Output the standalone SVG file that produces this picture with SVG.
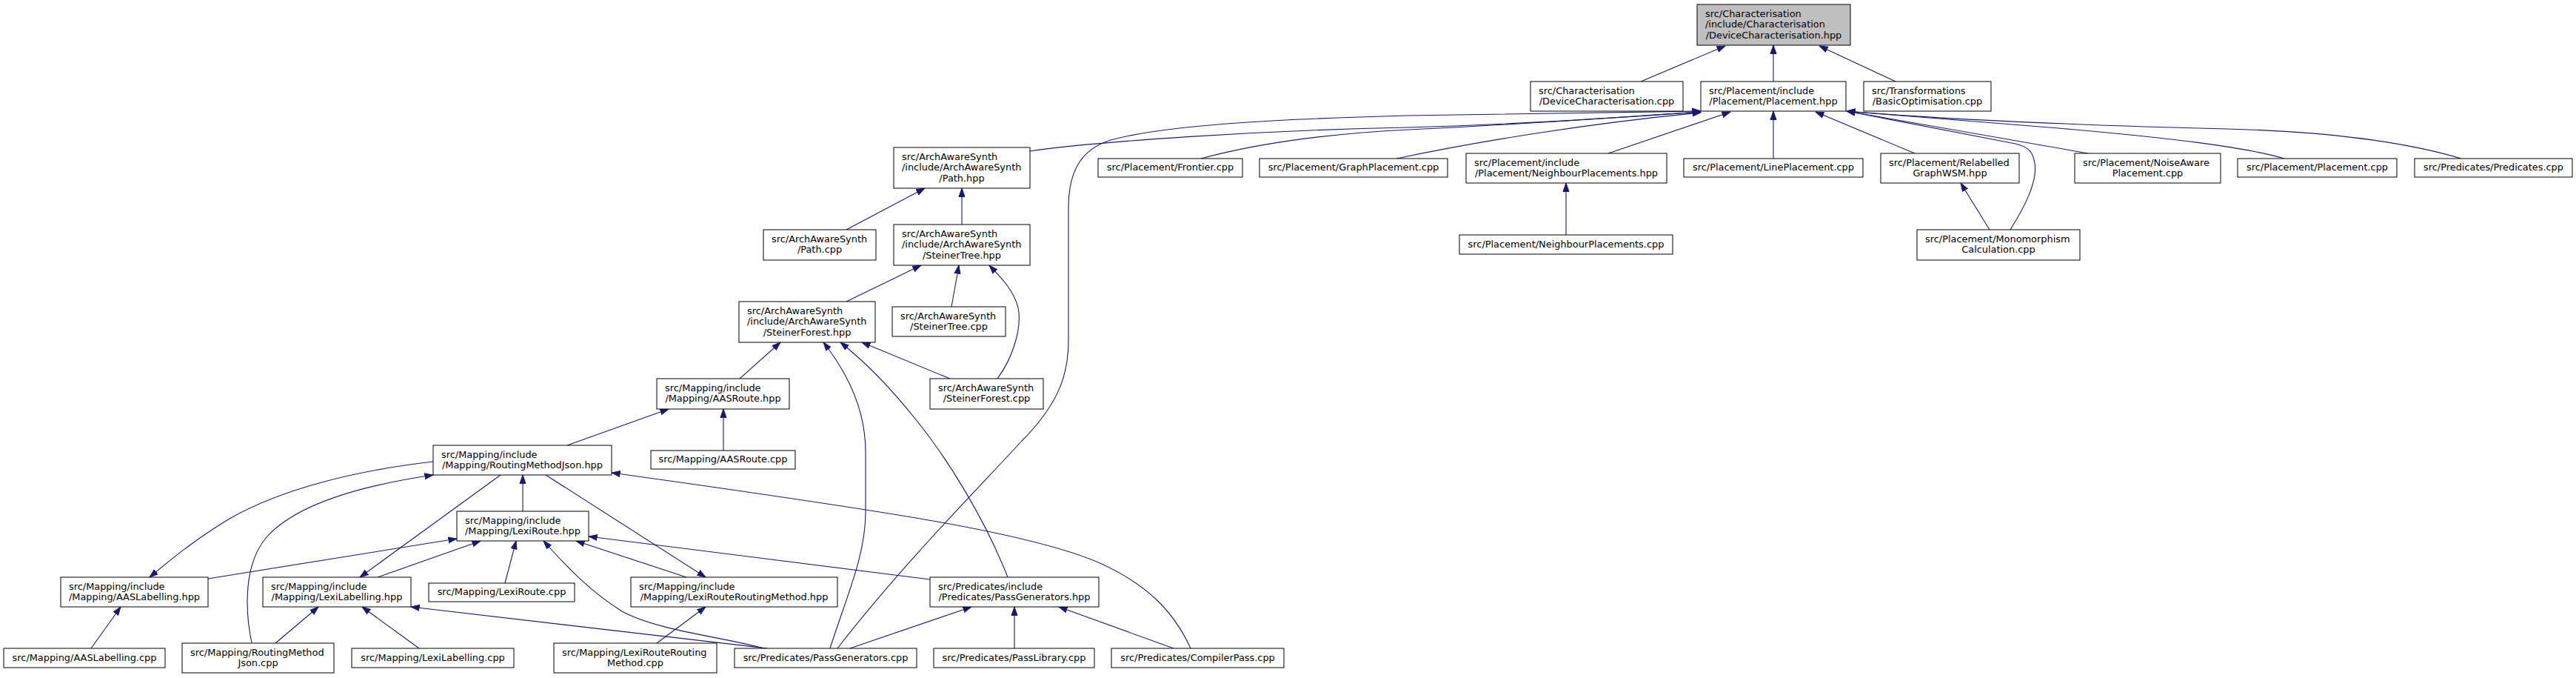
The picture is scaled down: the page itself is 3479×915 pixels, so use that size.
<svg xmlns="http://www.w3.org/2000/svg" width="3479" height="915" viewBox="0 0 3479 915">
<style>
.node rect{fill:#ffffff;stroke:#000000;stroke-width:1}
.node.root rect{fill:#bfbfbf}
.node text{font-family:"DejaVu Sans",sans-serif;font-size:12.9px;fill:#000000}
.l{text-anchor:start}
.c{text-anchor:middle}
.edges path{fill:none;stroke:#191970;stroke-width:1.1;marker-end:url(#ah)}
</style>
<defs>
<marker id="ah" markerUnits="userSpaceOnUse" viewBox="0 0 12 10" markerWidth="12" markerHeight="10" refX="11.5" refY="5" orient="auto">
<path d="M0,1 L11.5,5 L0,9 Z" fill="#191970" stroke="#191970" stroke-width="1"/>
</marker>
</defs>
<rect x="0" y="0" width="3479" height="915" fill="#ffffff"/>
<g class="edges">
<path d="M2216,110 L2330,62"/>
<path d="M2395,110 L2395,61"/>
<path d="M2560,110 L2457,62"/>
<path d="M1391,204 C1480,191 1700,176 1900,172 C2050,168 2200,158 2297,151"/>
<path d="M1131,875 C1220,760 1330,650 1380,595 C1430,545 1443,505 1443,460 L1443,280 C1443,225 1465,200 1500,189 C1580,167 1750,160 1900,156 C2050,153 2200,151 2297,150"/>
<path d="M1622,214 C1700,193 1800,180 1903,175 C2060,168 2200,157 2297,151"/>
<path d="M1886,214 C2000,190 2150,166 2297,152"/>
<path d="M2172,207 L2337,151"/>
<path d="M2395,214 L2395,150"/>
<path d="M2586,207 L2452,151"/>
<path d="M2715,310 C2735,278 2752,245 2748,220 C2745,203 2738,198 2722,194 L2494,150"/>
<path d="M2820,207 L2494,150"/>
<path d="M3085,214 C3030,198 2930,186 2780,173 L2494,150"/>
<path d="M3324,214 C3260,195 3160,178 3008,174 C2850,170 2650,163 2494,150"/>
<path d="M2115,317 L2115,247"/>
<path d="M2687,310 L2648,247"/>
<path d="M1143,310 L1249,254"/>
<path d="M1299,303 L1299,254"/>
<path d="M1143,407 L1244,358"/>
<path d="M1285,414 L1295,358"/>
<path d="M1347,511 C1370,480 1380,440 1375,415 C1368,390 1352,375 1336,358"/>
<path d="M999,511 L1054,462"/>
<path d="M1121,875 C1145,800 1169,750 1169,690 L1169,610 C1169,550 1142,500 1112,462"/>
<path d="M1361,779 C1330,700 1280,620 1240,570 C1200,520 1170,490 1135,462"/>
<path d="M1283,511 L1164,462"/>
<path d="M766,601 L903,552"/>
<path d="M977,608 L977,552"/>
<path d="M585,623 C480,635 380,660 310,700 C260,730 225,760 202,779"/>
<path d="M340,868 C330,820 330,760 360,725 C400,680 490,655 585,641"/>
<path d="M676,641 L486,779"/>
<path d="M706,690 L706,641"/>
<path d="M737,641 L953,779"/>
<path d="M1608,875 C1585,825 1550,790 1490,762 C1400,720 1200,690 826,638"/>
<path d="M281,781 L617,727"/>
<path d="M510,779 L649,730"/>
<path d="M682,787 L697,730"/>
<path d="M1031,875 C980,860 890,852 840,825 C800,800 770,770 734,730"/>
<path d="M927,779 L778,730"/>
<path d="M1256,782 L795,724"/>
<path d="M123,875 L163,819"/>
<path d="M372,868 L430,819"/>
<path d="M566,875 L489,819"/>
<path d="M1036,875 L555,819"/>
<path d="M887,868 L953,819"/>
<path d="M1148,875 L1312,819"/>
<path d="M1370,875 L1370,819"/>
<path d="M1585,875 L1430,819"/>
</g>
<g id="n0" class="node root"><rect x="2292" y="6" width="207" height="55"/><text class="l" x="2303" y="22.9">src/Characterisation</text><text class="l" x="2303" y="37.2">/include/Characterisation</text><text class="c" x="2395.5" y="51.5">/DeviceCharacterisation.hpp</text></g>
<g id="n1" class="node"><rect x="2067" y="110" width="206" height="40"/><text class="l" x="2078" y="126.55">src/Characterisation</text><text class="c" x="2170" y="140.85">/DeviceCharacterisation.cpp</text></g>
<g id="n2" class="node"><rect x="2297" y="110" width="196" height="40"/><text class="l" x="2308" y="126.55">src/Placement/include</text><text class="c" x="2395" y="140.85">/Placement/Placement.hpp</text></g>
<g id="n3" class="node"><rect x="2517" y="110" width="172" height="40"/><text class="l" x="2528" y="126.55">src/Transformations</text><text class="c" x="2603" y="140.85">/BasicOptimisation.cpp</text></g>
<g id="n4" class="node"><rect x="1207" y="199" width="184" height="55"/><text class="l" x="1218" y="215.9">src/ArchAwareSynth</text><text class="l" x="1218" y="230.2">/include/ArchAwareSynth</text><text class="c" x="1299" y="244.5">/Path.hpp</text></g>
<g id="n5" class="node"><rect x="1483" y="214" width="195" height="25"/><text class="c" x="1580.5" y="230.2">src/Placement/Frontier.cpp</text></g>
<g id="n6" class="node"><rect x="1701" y="214" width="254" height="25"/><text class="c" x="1828" y="230.2">src/Placement/GraphPlacement.cpp</text></g>
<g id="n7" class="node"><rect x="1980" y="207" width="271" height="40"/><text class="l" x="1991" y="223.55">src/Placement/include</text><text class="c" x="2115.5" y="237.85">/Placement/NeighbourPlacements.hpp</text></g>
<g id="n8" class="node"><rect x="2274" y="214" width="242" height="25"/><text class="c" x="2395" y="230.2">src/Placement/LinePlacement.cpp</text></g>
<g id="n9" class="node"><rect x="2540" y="207" width="187" height="40"/><text class="l" x="2551" y="223.55">src/Placement/Relabelled</text><text class="c" x="2633.5" y="237.85">GraphWSM.hpp</text></g>
<g id="n10" class="node"><rect x="2802" y="207" width="197" height="40"/><text class="l" x="2813" y="223.55">src/Placement/NoiseAware</text><text class="c" x="2900.5" y="237.85">Placement.cpp</text></g>
<g id="n11" class="node"><rect x="3022" y="214" width="215" height="25"/><text class="c" x="3129.5" y="230.2">src/Placement/Placement.cpp</text></g>
<g id="n12" class="node"><rect x="3261" y="214" width="213" height="25"/><text class="c" x="3367.5" y="230.2">src/Predicates/Predicates.cpp</text></g>
<g id="n13" class="node"><rect x="1971" y="317" width="288" height="26"/><text class="c" x="2115" y="333.7">src/Placement/NeighbourPlacements.cpp</text></g>
<g id="n14" class="node"><rect x="2589" y="310" width="220" height="41"/><text class="l" x="2600" y="327.05">src/Placement/Monomorphism</text><text class="c" x="2699" y="341.35">Calculation.cpp</text></g>
<g id="n15" class="node"><rect x="1031" y="310" width="152" height="41"/><text class="l" x="1042" y="327.05">src/ArchAwareSynth</text><text class="c" x="1107" y="341.35">/Path.cpp</text></g>
<g id="n16" class="node"><rect x="1207" y="303" width="184" height="55"/><text class="l" x="1218" y="319.9">src/ArchAwareSynth</text><text class="l" x="1218" y="334.2">/include/ArchAwareSynth</text><text class="c" x="1299" y="348.5">/SteinerTree.hpp</text></g>
<g id="n17" class="node"><rect x="998" y="407" width="184" height="55"/><text class="l" x="1009" y="423.9">src/ArchAwareSynth</text><text class="l" x="1009" y="438.2">/include/ArchAwareSynth</text><text class="c" x="1090" y="452.5">/SteinerForest.hpp</text></g>
<g id="n18" class="node"><rect x="1205" y="414" width="153" height="40"/><text class="l" x="1216" y="430.55">src/ArchAwareSynth</text><text class="c" x="1281.5" y="444.85">/SteinerTree.cpp</text></g>
<g id="n19" class="node"><rect x="887" y="511" width="179" height="41"/><text class="l" x="898" y="528.05">src/Mapping/include</text><text class="c" x="976.5" y="542.35">/Mapping/AASRoute.hpp</text></g>
<g id="n20" class="node"><rect x="1256" y="511" width="153" height="41"/><text class="l" x="1267" y="528.05">src/ArchAwareSynth</text><text class="c" x="1332.5" y="542.35">/SteinerForest.cpp</text></g>
<g id="n21" class="node"><rect x="585" y="601" width="241" height="40"/><text class="l" x="596" y="617.55">src/Mapping/include</text><text class="c" x="705.5" y="631.85">/Mapping/RoutingMethodJson.hpp</text></g>
<g id="n22" class="node"><rect x="879" y="608" width="195" height="25"/><text class="c" x="976.5" y="624.2">src/Mapping/AASRoute.cpp</text></g>
<g id="n23" class="node"><rect x="617" y="690" width="178" height="40"/><text class="l" x="628" y="706.55">src/Mapping/include</text><text class="c" x="706" y="720.85">/Mapping/LexiRoute.hpp</text></g>
<g id="n24" class="node"><rect x="82" y="779" width="199" height="40"/><text class="l" x="93" y="795.55">src/Mapping/include</text><text class="c" x="181.5" y="809.85">/Mapping/AASLabelling.hpp</text></g>
<g id="n25" class="node"><rect x="355" y="779" width="200" height="40"/><text class="l" x="366" y="795.55">src/Mapping/include</text><text class="c" x="455" y="809.85">/Mapping/LexiLabelling.hpp</text></g>
<g id="n26" class="node"><rect x="579" y="787" width="197" height="25"/><text class="c" x="677.5" y="803.2">src/Mapping/LexiRoute.cpp</text></g>
<g id="n27" class="node"><rect x="852" y="779" width="279" height="40"/><text class="l" x="863" y="795.55">src/Mapping/include</text><text class="c" x="991.5" y="809.85">/Mapping/LexiRouteRoutingMethod.hpp</text></g>
<g id="n28" class="node"><rect x="1256" y="779" width="228" height="40"/><text class="l" x="1267" y="795.55">src/Predicates/include</text><text class="c" x="1370" y="809.85">/Predicates/PassGenerators.hpp</text></g>
<g id="n29" class="node"><rect x="5" y="875" width="218" height="26"/><text class="c" x="114" y="891.7">src/Mapping/AASLabelling.cpp</text></g>
<g id="n30" class="node"><rect x="246" y="868" width="205" height="40"/><text class="l" x="257" y="884.55">src/Mapping/RoutingMethod</text><text class="c" x="348.5" y="898.85">Json.cpp</text></g>
<g id="n31" class="node"><rect x="475" y="875" width="219" height="26"/><text class="c" x="584.5" y="891.7">src/Mapping/LexiLabelling.cpp</text></g>
<g id="n32" class="node"><rect x="748" y="868" width="220" height="40"/><text class="l" x="759" y="884.55">src/Mapping/LexiRouteRouting</text><text class="c" x="858" y="898.85">Method.cpp</text></g>
<g id="n33" class="node"><rect x="992" y="875" width="246" height="26"/><text class="c" x="1115" y="891.7">src/Predicates/PassGenerators.cpp</text></g>
<g id="n34" class="node"><rect x="1261" y="875" width="217" height="26"/><text class="c" x="1369.5" y="891.7">src/Predicates/PassLibrary.cpp</text></g>
<g id="n35" class="node"><rect x="1501" y="875" width="233" height="26"/><text class="c" x="1617.5" y="891.7">src/Predicates/CompilerPass.cpp</text></g>
</svg>
